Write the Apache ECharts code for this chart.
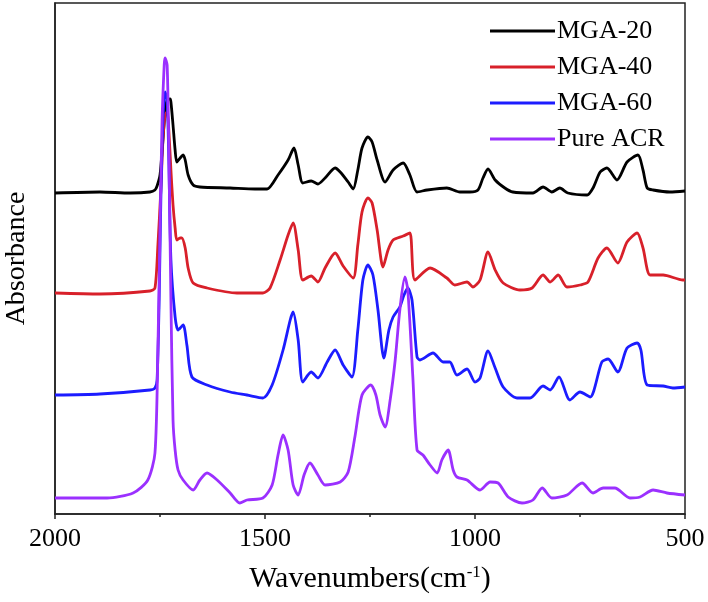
<!DOCTYPE html>
<html>
<head>
<meta charset="utf-8">
<script src="https://cdn.jsdelivr.net/npm/echarts@6/dist/echarts.min.js"></script>
<style>
html,body{margin:0;padding:0;background:#fff;}
#chart{width:708px;height:602px;}
</style>
</head>
<body>
<div id="chart"></div>
<script>
const seriesNames = ['MGA-20', 'MGA-40', 'MGA-60', 'Pure ACR'];
const xTicks = [2000, 1500, 1000, 500];

const mga20Wn = [2000,1893,1821,1774,1762,1757,1750,1743,1738,1733,1726,1724,1719,1714,1710,1702,1695,1690,1683,1671,1655,1583,1524,1495,1469,1445,1431,1421,1410,1390,1374,1357,1333,1321,1302,1290,1279,1269,1255,1245,1233,1214,1195,1171,1155,1138,1114,1067,1036,1012,993,981,969,952,929,910,862,838,817,798,779,733,719,702,686,662,638,612,600,590,576,536,500];
const mga20Abs = [3.21,3.22,3.21,3.22,3.24,3.28,3.39,3.74,4.02,4.14,4.15,4.12,3.89,3.64,3.52,3.56,3.59,3.54,3.39,3.29,3.27,3.26,3.25,3.25,3.39,3.54,3.66,3.49,3.31,3.33,3.30,3.36,3.46,3.42,3.32,3.25,3.44,3.66,3.77,3.72,3.54,3.32,3.44,3.51,3.39,3.22,3.24,3.26,3.22,3.22,3.24,3.36,3.45,3.34,3.26,3.22,3.21,3.27,3.22,3.26,3.21,3.19,3.26,3.42,3.46,3.34,3.52,3.59,3.44,3.26,3.24,3.22,3.23];

const mga40Wn = [2000,1893,1774,1762,1755,1748,1743,1738,1733,1729,1724,1719,1714,1710,1702,1698,1690,1683,1671,1638,1567,1505,1488,1464,1445,1433,1421,1410,1390,1374,1357,1333,1314,1290,1279,1269,1255,1245,1233,1219,1207,1195,1171,1155,1143,1107,1067,1048,1019,1005,988,969,952,933,893,864,838,821,802,781,750,731,707,686,660,638,614,600,583,552,505,500];
const mga40Abs = [2.21,2.20,2.23,2.26,2.69,3.24,3.74,3.99,4.02,3.84,3.44,3.09,2.86,2.74,2.76,2.76,2.66,2.46,2.31,2.26,2.21,2.21,2.26,2.54,2.79,2.91,2.64,2.34,2.38,2.32,2.46,2.61,2.48,2.36,2.69,3.02,3.16,3.11,2.84,2.47,2.64,2.74,2.78,2.81,2.34,2.46,2.36,2.29,2.32,2.27,2.34,2.62,2.44,2.31,2.24,2.26,2.39,2.32,2.39,2.27,2.29,2.32,2.56,2.66,2.51,2.72,2.81,2.66,2.39,2.39,2.34,2.34];

const mga60Wn = [2000,1893,1774,1762,1757,1752,1748,1743,1738,1733,1729,1724,1714,1707,1695,1686,1674,1638,1583,1543,1505,1483,1457,1440,1433,1421,1410,1390,1374,1352,1333,1314,1293,1279,1267,1255,1243,1231,1217,1205,1195,1179,1169,1160,1150,1138,1131,1100,1076,1060,1043,1019,1000,988,969,952,933,900,869,838,821,800,774,750,726,698,683,660,638,614,605,590,552,529,500];
const mga60Abs = [1.19,1.20,1.24,1.26,1.34,2.14,3.14,3.94,4.22,4.14,3.54,2.54,1.97,1.84,1.89,1.69,1.37,1.29,1.22,1.19,1.16,1.29,1.64,1.94,2.02,1.74,1.32,1.42,1.36,1.52,1.64,1.49,1.37,1.84,2.34,2.49,2.39,2.04,1.56,1.84,1.97,2.07,2.19,2.26,2.14,1.57,1.54,1.61,1.52,1.52,1.39,1.45,1.32,1.36,1.63,1.46,1.27,1.16,1.16,1.28,1.24,1.37,1.14,1.22,1.17,1.52,1.55,1.42,1.66,1.71,1.64,1.29,1.28,1.26,1.27];

const acrWn = [2000,1876,1814,1779,1762,1755,1750,1745,1740,1738,1733,1729,1724,1719,1714,1707,1695,1671,1655,1638,1614,1583,1560,1543,1505,1483,1469,1457,1445,1433,1421,1407,1393,1374,1357,1321,1302,1286,1269,1248,1236,1226,1214,1202,1190,1179,1167,1160,1148,1138,1124,1107,1090,1079,1064,1052,1043,1019,988,964,945,921,888,862,840,817,781,745,719,695,667,631,607,576,543,500];
const acrAbs = [0.16,0.16,0.21,0.34,0.61,1.64,2.84,3.94,4.49,4.56,4.49,3.64,2.14,0.94,0.64,0.44,0.34,0.24,0.34,0.41,0.34,0.21,0.11,0.14,0.16,0.29,0.59,0.79,0.64,0.29,0.19,0.39,0.51,0.39,0.29,0.32,0.42,0.77,1.19,1.29,1.19,0.99,0.87,1.14,1.54,2.04,2.37,2.24,1.37,0.64,0.59,0.49,0.41,0.54,0.64,0.44,0.37,0.34,0.24,0.32,0.31,0.17,0.11,0.14,0.26,0.16,0.19,0.31,0.21,0.26,0.26,0.16,0.17,0.24,0.21,0.19];

const colors = ['#000000', '#d8202a', '#1c1cff', '#9b30ff'];
const FONT = "'Liberation Serif', 'Times New Roman', serif";

function zip(a, b) { return a.map((v, i) => [v, b[i]]); }
const allData = [zip(mga20Wn, mga20Abs), zip(mga40Wn, mga40Abs), zip(mga60Wn, mga60Abs), zip(acrWn, acrAbs)];

const chart = echarts.init(document.getElementById('chart'), null, {renderer: 'canvas'});
chart.setOption({
  animation: false,
  backgroundColor: '#fff',
  color: colors,
  grid: {left: 55, right: 23, top: 3, bottom: 88, containLabel: false, outerBoundsMode: 'none',
    show: true, borderColor: '#222', borderWidth: 1.5, backgroundColor: 'transparent'},
  legend: {
    data: seriesNames,
    orient: 'vertical',
    left: 485,
    top: 13,
    icon: 'rect',
    itemWidth: 65,
    itemHeight: 3,
    itemGap: 10,
    textStyle: {fontFamily: FONT, fontSize: 26, color: '#000', padding: [0, 0, 0, -3]}
  },
  xAxis: {
    type: 'value',
    inverse: true,
    min: 500,
    max: 2000,
    interval: 500,
    name: 'Wavenumbers(cm{sup|-1})',
    nameLocation: 'middle',
    nameGap: 50,
    nameTextStyle: {fontFamily: FONT, fontSize: 30, color: '#000',
      rich: {sup: {fontFamily: FONT, fontSize: 17, color: '#000', verticalAlign: 'top', padding: [0, 0, 12, 0]}}},
    axisLine: {show: true, lineStyle: {color: '#222', width: 1.5}},
    axisTick: {show: true, inside: false, length: 5, lineStyle: {color: '#222', width: 1.5}},
    minorTick: {show: true, splitNumber: 2, length: 3, lineStyle: {color: '#222', width: 1.5}},
    splitLine: {show: false},
    axisLabel: {fontFamily: FONT, fontSize: 26, color: '#000', margin: 12,
      formatter: v => xTicks.includes(v) ? String(v) : ''}
  },
  yAxis: {
    type: 'value',
    min: 0,
    max: 5.11,
    name: 'Absorbance',
    nameLocation: 'middle',
    nameGap: 24,
    nameRotate: 90,
    nameTextStyle: {fontFamily: FONT, fontSize: 28, color: '#000'},
    axisLine: {show: true, lineStyle: {color: '#222', width: 1.5}},
    axisTick: {show: false},
    axisLabel: {show: false},
    splitLine: {show: false}
  },
  series: seriesNames.map((n, i) => ({
    name: n,
    type: 'line',
    data: allData[i],
    showSymbol: false,
    symbol: 'none',
    smooth: 0.25,
    lineStyle: {width: 2.8, color: colors[i]},
    itemStyle: {color: colors[i]},
    z: 2 + i
  }))
});
</script>
</body>
</html>
